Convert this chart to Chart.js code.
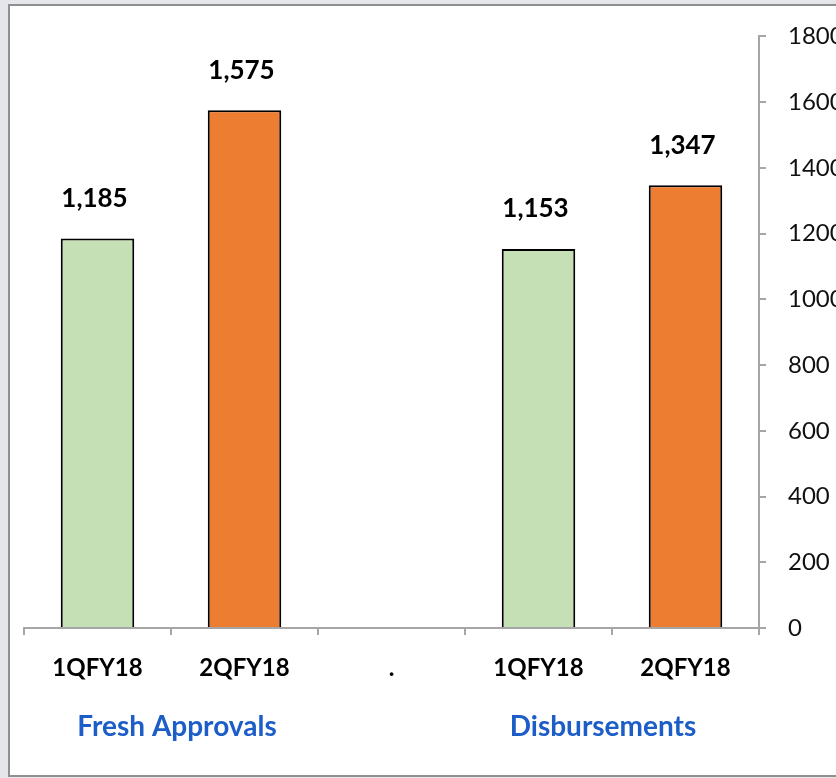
<!DOCTYPE html>
<html>
<head>
<meta charset="utf-8">
<script src="https://cdn.jsdelivr.net/npm/chart.js@4.4.0/dist/chart.umd.min.js"></script>
<style>
  html, body { margin: 0; padding: 0; width: 836px; height: 778px; overflow: hidden; background: #e4e6ea; }
  #frame { position: absolute; left: 8px; top: 4px; width: 900px; height: 769px; background: #fff; border: 2px solid #8f8f8f; }
  #chart { position: absolute; left: 0; top: 0; }
</style>
</head>
<body>
<div id="frame"></div>
<canvas id="chart" width="836" height="778"></canvas>
<script>
// categories along the x axis ('.' is the spacer between groups)
var categories = ['1QFY18', '2QFY18', '.', '1QFY18', '2QFY18'];
var groupLabels = ['Fresh Approvals', 'Disbursements'];
// which pair of categories each group label sits under
var groupIndex = [[0, 1], [3, 4]];

// values per quarter, null where there is no bar
var q1Values = [1185, null, null, 1153, null];
var q2Values = [null, 1575, null, null, 1347];

var yTicks = [0, 200, 400, 600, 800, 1000, 1200, 1400, 1600, 1800];

var FONT = 'Lato, "Open Sans", sans-serif';
var AXIS_GRAY = '#a6a6a6';

// value labels above each bar
var barLabels = {
  id: 'barLabels',
  afterDatasetsDraw(chart) {
    const ctx = chart.ctx;
    ctx.save();
    ctx.font = 'bold 26px ' + FONT;
    ctx.fillStyle = '#000';
    ctx.textAlign = 'center';
    ctx.textBaseline = 'middle';
    chart.data.datasets.forEach((ds, i) => {
      chart.getDatasetMeta(i).data.forEach((bar, j) => {
        if (ds.data[j] == null) return;
        ctx.fillText(ds.data[j].toLocaleString('en-US'), bar.x - 3, bar.y - 40);
      });
    });
    ctx.restore();
  }
};

// blue group titles under the category labels
var groupTitles = {
  id: 'groupTitles',
  afterDraw(chart) {
    const ctx = chart.ctx;
    const x = chart.scales.x;
    ctx.save();
    ctx.font = 'bold 28px ' + FONT;
    ctx.fillStyle = '#1c5dc7';
    ctx.textAlign = 'center';
    ctx.textBaseline = 'middle';
    groupLabels.forEach((t, i) => {
      const a = x.getPixelForValue(groupIndex[i][0]);
      const b = x.getPixelForValue(groupIndex[i][1]);
      ctx.fillText(t, (a + b) / 2 + (i === 0 ? 6 : -9), 727);
    });
    ctx.restore();
  }
};

new Chart(document.getElementById('chart'), {
  type: 'bar',
  data: {
    labels: categories,
    datasets: [
      {
        label: '1QFY18',
        data: q1Values,
        backgroundColor: '#c5e0b4',
        borderColor: '#000',
        borderWidth: 2,
        borderSkipped: 'bottom'
      },
      {
        label: '2QFY18',
        data: q2Values,
        backgroundColor: '#ed7d31',
        borderColor: '#000',
        borderWidth: 2,
        borderSkipped: 'bottom'
      }
    ]
  },
  options: {
    responsive: false,
    animation: false,
    events: [],
    layout: { padding: { left: 24, top: 33, right: 0, bottom: 0 } },
    plugins: {
      legend: { display: false },
      tooltip: { enabled: false }
    },
    datasets: {
      bar: { grouped: false, categoryPercentage: 1, barPercentage: 0.5 }
    },
    scales: {
      x: {
        grid: { offset: true, drawOnChartArea: false, drawTicks: true, tickLength: 7, color: AXIS_GRAY, lineWidth: 2 },
        border: { color: AXIS_GRAY, width: 2 },
        ticks: { font: { family: FONT, size: 24, weight: 'bold' }, color: '#000', padding: 19, maxRotation: 0 },
        afterFit: s => { s.height = 150; }
      },
      y: {
        position: 'right',
        min: 0,
        max: 1800,
        afterBuildTicks: s => { s.ticks = yTicks.map(v => ({ value: v })); },
        grid: { drawOnChartArea: false, drawTicks: true, tickLength: 7, color: AXIS_GRAY, lineWidth: 2 },
        border: { color: AXIS_GRAY, width: 2 },
        ticks: { font: { family: FONT, size: 24 }, color: '#111', padding: 22, callback: v => String(v) },
        afterFit: s => { s.width = 77; }
      }
    }
  },
  plugins: [barLabels, groupTitles]
});
</script>
</body>
</html>
